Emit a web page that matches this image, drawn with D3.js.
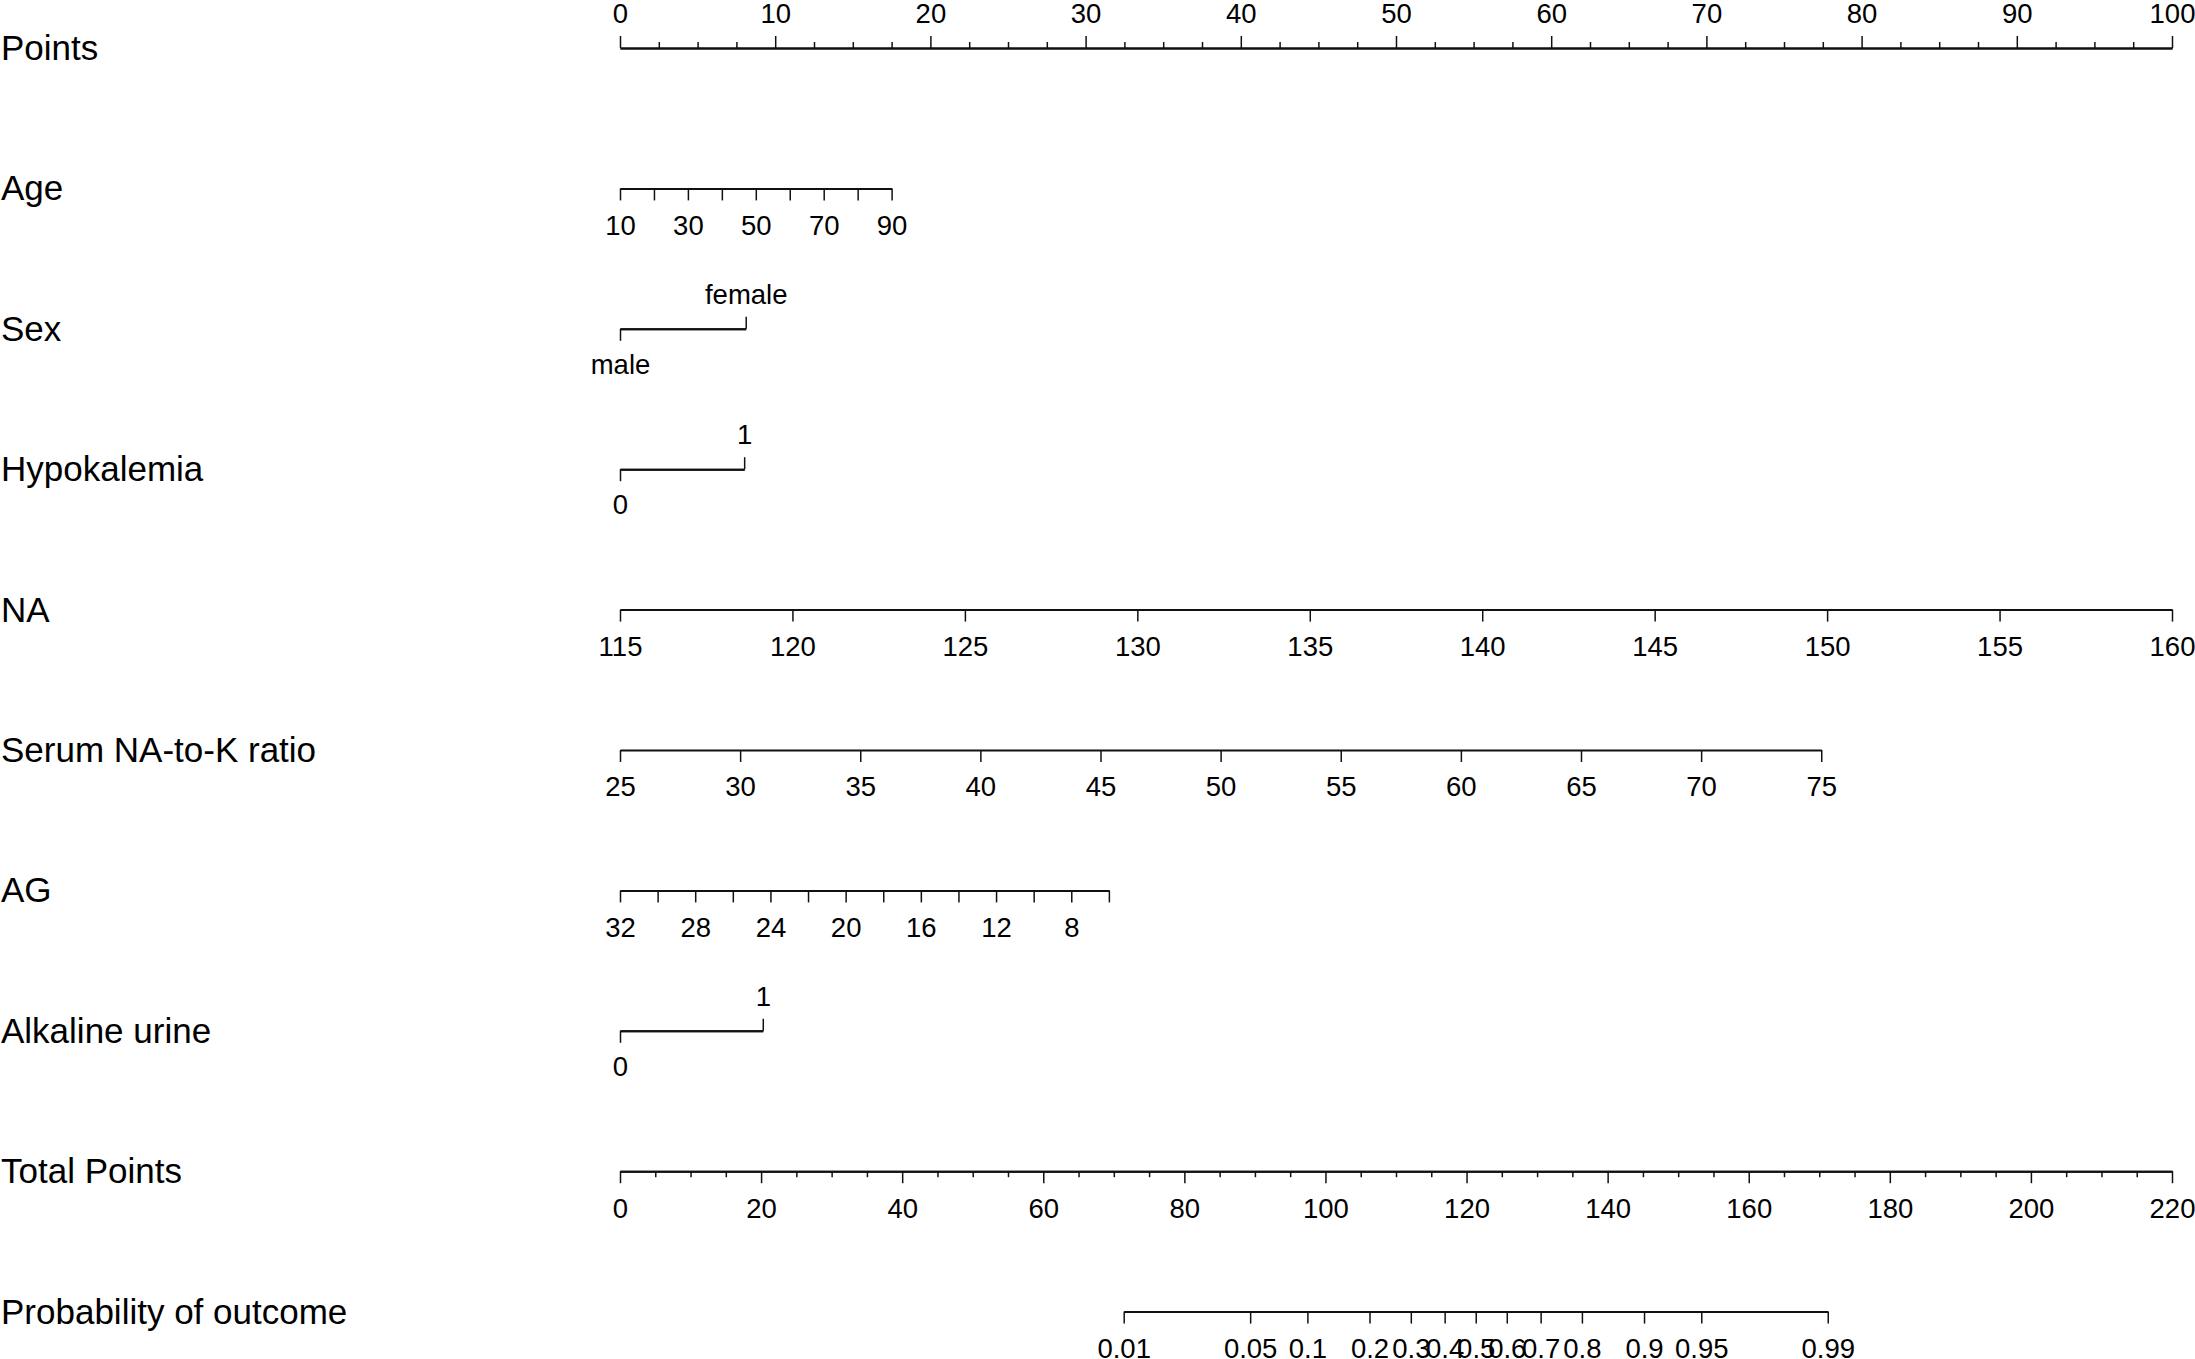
<!DOCTYPE html>
<html lang="en">
<head>
<meta charset="UTF-8">
<title>Nomogram</title>
<script src="https://cdn.jsdelivr.net/npm/d3@7"></script>
<style>
body { margin: 0; background: #fff; }
svg { display: block; font-family: "Liberation Sans", Arial, sans-serif; }
</style>
</head>
<body>
<div id="chart"></div>
<script>
// row labels, top to bottom
const rowLabels = [
    "Points", "Age", "Sex", "Hypokalemia", "NA", "Serum NA-to-K ratio",
    "AG", "Alkaline urine", "Total Points", "Probability of outcome"
];

// points scale
const pointsMajor = [0, 10, 20, 30, 40, 50, 60, 70, 80, 90, 100];
const pointsMinorStep = 2.5;

// continuous predictors: value range -> points range
const ageRange = [10, 90];
const agePoints = [0, 17.5];
const ageTicks = [10, 20, 30, 40, 50, 60, 70, 80, 90];
const ageLabels = [10, 30, 50, 70, 90];

const naRange = [115, 160];
const naPoints = [0, 100];
const naTicks = [115, 120, 125, 130, 135, 140, 145, 150, 155, 160];

const serumRange = [25, 75];
const serumPoints = [0, 77.4];
const serumTicks = [25, 30, 35, 40, 45, 50, 55, 60, 65, 70, 75];

const agRange = [32, 6];
const agPoints = [0, 31.5];
const agTicks = [32, 30, 28, 26, 24, 22, 20, 18, 16, 14, 12, 10, 8, 6];
const agLabels = [32, 28, 24, 20, 16, 12, 8];

// categorical predictors: levels -> points
const sexLevels = ["male", "female"];
const sexPoints = [0, 8.1];
const hypoLevels = ["0", "1"];
const hypoPoints = [0, 8.0];
const urineLevels = ["0", "1"];
const urinePoints = [0, 9.2];

// total points and probability
const totalRange = [0, 220];
const totalMajor = [0, 20, 40, 60, 80, 100, 120, 140, 160, 180, 200, 220];
const totalMinorStep = 5;
const probTicks = [0.01, 0.05, 0.1, 0.2, 0.3, 0.4, 0.5, 0.6, 0.7, 0.8, 0.9, 0.95, 0.99];
const probTotalAt = [71.4, 171.2]; // total points where 0.01 and 0.99 sit

// layout
const WIDTH = 2195;
const HEIGHT = 1359;
const X_LEFT = 620;
const X_RIGHT = 2172;
const ROW_TOP = 48;
const ROW_STEP = 140.4;
const TICK_LEN = 12;
const MINOR_LEN = 6;
const TICK_FONT = 27.5;
const LABEL_FONT = 35;
const PAD_UP = 13;
const PAD_DOWN = 14.8;

const rowY = i => ROW_TOP + ROW_STEP * i;
const logit = p => Math.log(p / (1 - p));

const svg = d3.select("#chart").append("svg")
    .attr("width", WIDTH)
    .attr("height", HEIGHT);

const xPoints = d3.scaleLinear().domain([0, 100]).range([X_LEFT, X_RIGHT]);
const xTotal = d3.scaleLinear().domain(totalRange).range([X_LEFT, X_RIGHT]);

function styleAxis(g) {
    g.attr("font-family", null).attr("font-size", null);
    g.select(".domain").attr("stroke", "#111").attr("stroke-width", 2);
    g.selectAll(".tick line").attr("stroke", "#111").attr("stroke-width", 1.5);
    g.selectAll(".tick text")
        .attr("fill", "#000")
        .style("font-size", TICK_FONT + "px");
}

// draws one axis row; up = ticks and labels above the line
function drawRow(i, scale, opts) {
    const g = svg.append("g").attr("transform", `translate(0,${rowY(i)})`);
    const make = opts.up ? d3.axisTop : d3.axisBottom;
    const pad = opts.up ? PAD_UP : PAD_DOWN;
    if (opts.minor) {
        g.append("g").call(
            make(scale).tickValues(opts.minor).tickSize(MINOR_LEN)
                .tickSizeOuter(0).tickFormat("")
        ).call(styleAxis);
    }
    const labels = opts.labels || opts.ticks;
    const fmt = opts.format || (d => labels.includes(d) ? String(d) : "");
    g.append("g").call(
        make(scale).tickValues(opts.ticks).tickSize(TICK_LEN)
            .tickSizeOuter(0).tickPadding(pad).tickFormat(fmt)
    ).call(styleAxis);
    return g;
}

// categorical row: first level below the line, second above
function drawLevels(i, levels, pts) {
    const scale = d3.scalePoint().domain(levels).range(pts.map(xPoints));
    const g = svg.append("g").attr("transform", `translate(0,${rowY(i)})`);
    g.append("g").call(
        d3.axisBottom(scale).tickValues([levels[0]]).tickSize(TICK_LEN)
            .tickSizeOuter(0).tickPadding(PAD_DOWN - 1.5)
    ).call(styleAxis);
    g.append("g").call(
        d3.axisTop(scale).tickValues([levels[1]]).tickSize(TICK_LEN)
            .tickSizeOuter(0).tickPadding(PAD_UP)
    ).call(styleAxis);
}

// 0: Points
drawRow(0, xPoints, {
    up: true,
    ticks: pointsMajor,
    minor: d3.range(0, 100 + 1e-9, pointsMinorStep).filter(d => !pointsMajor.includes(d))
});

// 1: Age
drawRow(1, d3.scaleLinear().domain(ageRange).range(agePoints.map(xPoints)), {
    ticks: ageTicks, labels: ageLabels
});

// 2: Sex
drawLevels(2, sexLevels, sexPoints);

// 3: Hypokalemia
drawLevels(3, hypoLevels, hypoPoints);

// 4: NA
drawRow(4, d3.scaleLinear().domain(naRange).range(naPoints.map(xPoints)), {
    ticks: naTicks
});

// 5: Serum NA-to-K ratio
drawRow(5, d3.scaleLinear().domain(serumRange).range(serumPoints.map(xPoints)), {
    ticks: serumTicks
});

// 6: AG (reversed)
drawRow(6, d3.scaleLinear().domain(agRange).range(agPoints.map(xPoints)), {
    ticks: agTicks, labels: agLabels
});

// 7: Alkaline urine
drawLevels(7, urineLevels, urinePoints);

// 8: Total Points
drawRow(8, xTotal, {
    ticks: totalMajor,
    minor: d3.range(0, 220 + 1e-9, totalMinorStep).filter(d => !totalMajor.includes(d))
});

// 9: Probability, linear on the logit scale
const xProb = d3.scaleLinear()
    .domain([logit(probTicks[0]), logit(probTicks[probTicks.length - 1])])
    .range(probTotalAt.map(xTotal));
drawRow(9, xProb, {
    ticks: probTicks.map(logit),
    format: (d, j) => String(probTicks[j])
});

// row labels
svg.append("g").selectAll("text")
    .data(rowLabels)
    .join("text")
    .attr("x", 1)
    .attr("y", (d, i) => rowY(i) + 12)
    .attr("fill", "#000")
    .style("font-size", LABEL_FONT + "px")
    .text(d => d);
</script>
</body>
</html>
